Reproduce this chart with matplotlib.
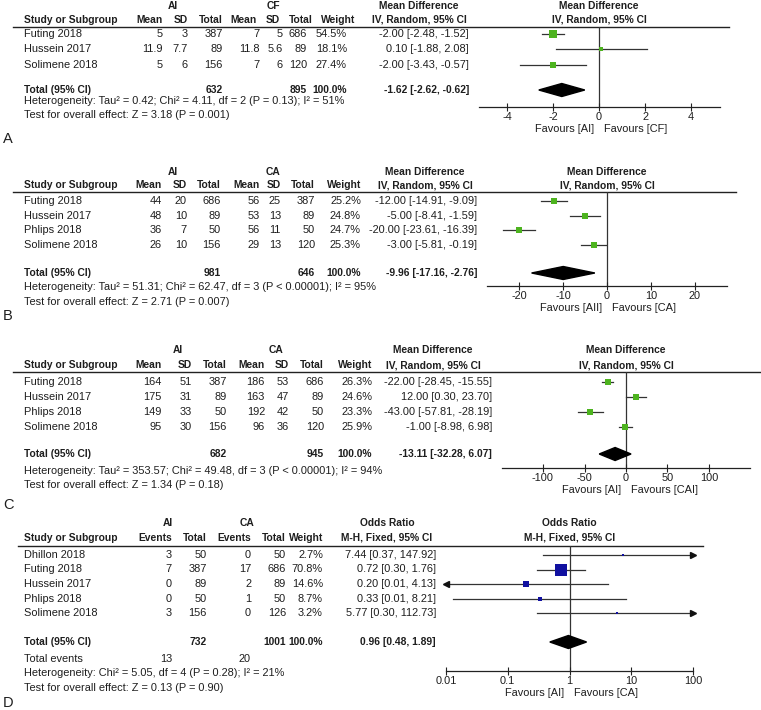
import math

import matplotlib
matplotlib.use('Agg')
from matplotlib import pyplot as plt
from matplotlib.patches import Polygon
from matplotlib.ticker import NullLocator
from matplotlib.transforms import offset_copy

# ---------------- data ----------------
# A: AI vs CF
a_studies = ["Futing 2018", "Hussein 2017", "Solimene 2018"]
a_ai_mean = [5, 11.9, 5]
a_ai_sd = [3, 7.7, 6]
a_ai_n = [387, 89, 156]
a_cf_mean = [7, 11.8, 7]
a_cf_sd = [5, 5.6, 6]
a_cf_n = [686, 89, 120]
a_weight = [54.5, 18.1, 27.4]
a_md = [-2.00, 0.10, -2.00]
a_lo = [-2.48, -1.88, -3.43]
a_hi = [-1.52, 2.08, -0.57]
a_total = [632, 895, -1.62, -2.62, -0.62]
a_notes = ["Heterogeneity: Tau\u00b2 = 0.42; Chi\u00b2 = 4.11, df = 2 (P = 0.13); I\u00b2 = 51%",
           "Test for overall effect: Z = 3.18 (P = 0.001)"]

# B: AI vs CA
b_studies = ["Futing 2018", "Hussein 2017", "Phlips 2018", "Solimene 2018"]
b_ai_mean = [44, 48, 36, 26]
b_ai_sd = [20, 10, 7, 10]
b_ai_n = [686, 89, 50, 156]
b_ca_mean = [56, 53, 56, 29]
b_ca_sd = [25, 13, 11, 13]
b_ca_n = [387, 89, 50, 120]
b_weight = [25.2, 24.8, 24.7, 25.3]
b_md = [-12.00, -5.00, -20.00, -3.00]
b_lo = [-14.91, -8.41, -23.61, -5.81]
b_hi = [-9.09, -1.59, -16.39, -0.19]
b_total = [981, 646, -9.96, -17.16, -2.76]
b_notes = ["Heterogeneity: Tau\u00b2 = 51.31; Chi\u00b2 = 62.47, df = 3 (P < 0.00001); I\u00b2 = 95%",
           "Test for overall effect: Z = 2.71 (P = 0.007)"]

# C: AI vs CA
c_studies = ["Futing 2018", "Hussein 2017", "Phlips 2018", "Solimene 2018"]
c_ai_mean = [164, 175, 149, 95]
c_ai_sd = [51, 31, 33, 30]
c_ai_n = [387, 89, 50, 156]
c_ca_mean = [186, 163, 192, 96]
c_ca_sd = [53, 47, 42, 36]
c_ca_n = [686, 89, 50, 120]
c_weight = [26.3, 24.6, 23.3, 25.9]
c_md = [-22.00, 12.00, -43.00, -1.00]
c_lo = [-28.45, 0.30, -57.81, -8.98]
c_hi = [-15.55, 23.70, -28.19, 6.98]
c_total = [682, 945, -13.11, -32.28, 6.07]
c_notes = ["Heterogeneity: Tau\u00b2 = 353.57; Chi\u00b2 = 49.48, df = 3 (P < 0.00001); I\u00b2 = 94%",
           "Test for overall effect: Z = 1.34 (P = 0.18)"]

# D: AI vs CA, odds ratio
d_studies = ["Dhillon 2018", "Futing 2018", "Hussein 2017", "Phlips 2018", "Solimene 2018"]
d_ai_ev = [3, 7, 0, 0, 3]
d_ai_n = [50, 387, 89, 50, 156]
d_ca_ev = [0, 17, 2, 1, 0]
d_ca_n = [50, 686, 89, 50, 126]
d_weight = [2.7, 70.8, 14.6, 8.7, 3.2]
d_or = [7.44, 0.72, 0.20, 0.33, 5.77]
d_lo = [0.37, 0.30, 0.009, 0.013, 0.30]
d_hi = [147.92, 1.76, 4.13, 8.21, 112.73]
d_total = [732, 1001, 0.96, 0.48, 1.89]
d_events = [13, 20]
d_notes = ["Heterogeneity: Chi\u00b2 = 5.05, df = 4 (P = 0.28); I\u00b2 = 21%",
           "Test for overall effect: Z = 0.13 (P = 0.90)"]

# ---------------- drawing ----------------
W, H = 761, 710
FS = 7.9      # regular text
FSB = 7.4     # bold text
TXT = '#1e1e1e'
GREEN = '#4db31f'
BLUE = '#1010a0'
plt.rcParams['font.family'] = ['Liberation Sans', 'DejaVu Sans']

fig = plt.figure(figsize=(W / 100, H / 100), dpi=100)
base = fig.add_axes([0, 0, 1, 1])
base.set_xlim(0, W)
base.set_ylim(H, 0)
base.axis('off')


def put(x, y, s, ha='right', bold=False, size=None):
    if size is None:
        size = FSB if bold else FS
    base.text(x, y, s, ha=ha, va='center', fontsize=size, color=TXT,
              fontweight='bold' if bold else 'normal')


def ci_str(m, l, h):
    return f"{m:.2f} [{l:.2f}, {h:.2f}]"


def table(studies, cols, col_x, col_names, groups, ci, ci_x, ci_center, ci_head,
          hdr_y, line_y, line_x, row0, step, total, total_y, notes, note_y,
          extra=None, head_x=None):
    put(groups[0][0], hdr_y[0], groups[0][1], ha='center', bold=True)
    put(groups[1][0], hdr_y[0], groups[1][1], ha='center', bold=True)
    put(24, hdr_y[1], "Study or Subgroup", ha='left', bold=True)
    for x, name in zip(head_x or col_x, col_names):
        put(x, hdr_y[1], name, bold=True)
    put(ci_center, hdr_y[0], ci_head[0], ha='center', bold=True)
    put(ci_center, hdr_y[1], ci_head[1], ha='center', bold=True)
    base.plot(line_x, [line_y, line_y], color='#222', lw=1.0)
    for i, s in enumerate(studies):
        y = row0 + i * step
        put(24, y, s, ha='left')
        for x, vals in zip(col_x, cols):
            put(x, y, vals[i])
        put(ci_x, y, ci[i])
    put(24, total_y, "Total (95% CI)", ha='left', bold=True)
    for x, s in total:
        put(x, total_y, s, bold=True)
    if extra:
        for x, y, s, ha in extra:
            put(x, y, s, ha=ha)
    for y, s in zip(note_y, notes):
        put(24, y, s, ha='left')


def forest(x0, x1, y_top, y_axis, xlim, ticks, labels, null, est, lo, hi, weights, rows,
           tot, total_y, color, k, heads, hdr_y, fav, log=False):
    ax = fig.add_axes([x0 / W, 1 - y_axis / H, (x1 - x0) / W, (y_axis - y_top) / H])
    ax.patch.set_alpha(0)
    if log:
        ax.set_xscale('log')
    ax.set_xlim(*xlim)
    ax.set_ylim(y_axis, y_top)
    for sp in ['left', 'right', 'top']:
        ax.spines[sp].set_visible(False)
    ax.spines['bottom'].set_color('#222')
    ax.spines['bottom'].set_linewidth(0.9)
    ax.set_yticks([])
    ax.set_xticks(ticks)
    ax.set_xticklabels(labels, fontsize=FS, color=TXT)
    ax.xaxis.set_minor_locator(NullLocator())
    ax.tick_params(axis='x', direction='inout', length=6, width=0.8, color='#222', pad=0.5)
    ax.axvline(null, color='#333', lw=0.9, zorder=1)
    for i in range(len(est)):
        y = rows[i]
        l = max(lo[i], xlim[0])
        h = min(hi[i], xlim[1])
        ax.plot([l, h], [y, y], color='#333', lw=0.9, zorder=2)
        if lo[i] < xlim[0]:
            ax.plot(xlim[0], y, marker='<', ms=4, color='#111', clip_on=False, zorder=3)
        if hi[i] > xlim[1]:
            ax.plot(xlim[1], y, marker='>', ms=4, color='#111', clip_on=False, zorder=3)
        side = k * math.sqrt(weights[i]) * 0.72
        ax.plot(est[i], y, 's', ms=side, color=color, mec=color, mew=0, zorder=4)
    m, l, h = tot
    ax.add_patch(Polygon([(l, total_y), (m, total_y - 6.5), (h, total_y), (m, total_y + 6.5)],
                         closed=True, color='black', zorder=4))
    for s, y in zip(heads, hdr_y):
        ax.text(null, y, s, ha='center', va='center', fontsize=FSB, fontweight='bold',
                color=TXT, clip_on=False)
    fy = y_axis + 22
    ax.text(null, fy, fav[0], ha='right', va='center', fontsize=FS, color=TXT, clip_on=False,
            transform=offset_copy(ax.transData, fig=fig, x=-5, y=0, units='dots'))
    ax.text(null, fy, fav[1], ha='left', va='center', fontsize=FS, color=TXT, clip_on=False,
            transform=offset_copy(ax.transData, fig=fig, x=5, y=0, units='dots'))
    return ax


def fmt(v):
    return [f"{x:g}" for x in v]


def pct(v):
    return [f"{x:.1f}%" for x in v]


md_head = ["Mean Difference", "IV, Random, 95% CI"]
cont_cols = ["Mean", "SD", "Total", "Mean", "SD", "Total", "Weight"]

# ---- panel A ----
rows_a = [34 + i * 15.5 for i in range(len(a_studies))]
ax_x = [163, 188, 223, 260, 283, 307, 347]
table(a_studies, [fmt(a_ai_mean), fmt(a_ai_sd), fmt(a_ai_n), fmt(a_cf_mean), fmt(a_cf_sd),
                  fmt(a_cf_n), pct(a_weight)], ax_x, cont_cols, [(173, "AI"), (273, "CF")],
      [ci_str(*t) for t in zip(a_md, a_lo, a_hi)], 469, 419, md_head,
      (6, 20), 26.5, [13, 729], 34, 15.5,
      [(223, str(a_total[0])), (307, str(a_total[1])), (347, "100.0%"),
       (469, ci_str(*a_total[2:]))], 90, a_notes, [101, 115],
      head_x=[163, 188, 223, 257, 280, 313, 355])
forest(479, 720, 26.5, 107, (-5.22, 5.26), [-4, -2, 0, 2, 4], ["-4", "-2", "0", "2", "4"], 0,
       a_md, a_lo, a_hi, a_weight, rows_a, a_total[2:], 90, GREEN, 1.1, md_head, (6, 20),
       ["Favours [AI]", "Favours [CF]"])
put(3, 139, "A", ha='left', size=10.5)

# ---- panel B ----
rows_b = [201 + i * 14.7 for i in range(len(b_studies))]
bx = [162, 187, 221, 260, 281, 315, 361]
table(b_studies, [fmt(b_ai_mean), fmt(b_ai_sd), fmt(b_ai_n), fmt(b_ca_mean), fmt(b_ca_sd),
                  fmt(b_ca_n), pct(b_weight)], bx, cont_cols, [(173, "AI"), (273, "CA")],
      [ci_str(*t) for t in zip(b_md, b_lo, b_hi)], 477, 425, md_head,
      (172, 185), 192, [13, 736], 201, 14.7,
      [(221, str(b_total[0])), (315, str(b_total[1])), (361, "100.0%"),
       (477, ci_str(*b_total[2:]))], 273, b_notes, [287, 302])
forest(487, 727, 192, 286, (-27.3, 27.3), [-20, -10, 0, 10, 20],
       ["-20", "-10", "0", "10", "20"], 0, b_md, b_lo, b_hi, b_weight, rows_b, b_total[2:],
       273, GREEN, 1.2, md_head, (172, 185), ["Favours [AII]", "Favours [CA]"])
put(3, 316, "B", ha='left', size=10.5)

# ---- panel C ----
rows_c = [382 + i * 15 for i in range(len(c_studies))]
cx = [162, 192, 227, 265, 289, 324, 372]
table(c_studies, [fmt(c_ai_mean), fmt(c_ai_sd), fmt(c_ai_n), fmt(c_ca_mean), fmt(c_ca_sd),
                  fmt(c_ca_n), pct(c_weight)], cx, cont_cols, [(178, "AI"), (276, "CA")],
      [ci_str(*t) for t in zip(c_md, c_lo, c_hi)], 492, 433, md_head,
      (350, 365), 372, [13, 761], 382, 15,
      [(227, str(c_total[0])), (324, str(c_total[1])), (372, "100.0%"),
       (492, ci_str(*c_total[2:]))], 454, c_notes, [471, 485])
forest(502, 750, 372, 468, (-149.4, 149.4), [-100, -50, 0, 50, 100],
       ["-100", "-50", "0", "50", "100"], 0, c_md, c_lo, c_hi, c_weight, rows_c, c_total[2:],
       454, GREEN, 1.1, md_head, (350, 365), ["Favours [AI]", "Favours [CAI]"])
put(3, 505, "C", ha='left', size=10.5)

# ---- panel D ----
rows_d = [555 + i * 14.5 for i in range(len(d_studies))]
dx = [172, 207, 251, 286, 323]
table(d_studies, [fmt(d_ai_ev), fmt(d_ai_n), fmt(d_ca_ev), fmt(d_ca_n), pct(d_weight)], dx,
      ["Events", "Total", "Events", "Total", "Weight"], [(168, "AI"), (247, "CA")],
      [ci_str(*t) for t in zip(d_or, d_lo, d_hi)], 436, 387,
      ["Odds Ratio", "M-H, Fixed, 95% CI"],
      (523, 538), 546, [18, 703], 555, 14.5,
      [(207, str(d_total[0])), (286, str(d_total[1])), (323, "100.0%"),
       (436, ci_str(*d_total[2:]))], 642, d_notes, [673, 688],
      extra=[(24, 659, "Total events", 'left'), (172, 659, str(d_events[0]), 'right'),
             (251, 659, str(d_events[1]), 'right')])
forest(446, 693, 546, 671, (0.01, 100), [0.01, 0.1, 1, 10, 100],
       ["0.01", "0.1", "1", "10", "100"], 1, d_or, d_lo, d_hi, d_weight, rows_d, d_total[2:],
       642, BLUE, 1.45, ["Odds Ratio", "M-H, Fixed, 95% CI"], (523, 538),
       ["Favours [AI]", "Favours [CA]"], log=True)
put(3, 703, "D", ha='left', size=10.5)

fig.savefig("out.png", dpi=100)
